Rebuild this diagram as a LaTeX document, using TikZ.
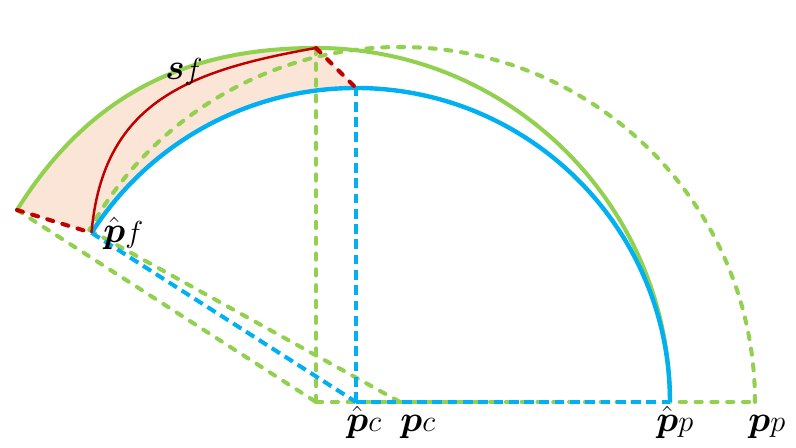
\documentclass[tikz,border=0pt]{standalone}
\usepackage{amsmath}
\usepackage{tikz}
\usetikzlibrary{calc}

\definecolor{skyblue}{RGB}{0,176,240}
\definecolor{leafgreen}{RGB}{146,208,80}
\definecolor{darkred}{RGB}{192,0,0}
\definecolor{peach}{RGB}{251,229,214}

\tikzset{
  dashes/.style={line width=2.3pt,line cap=round,dash pattern=on 3.5pt off 5.5pt},
  bluedashes/.style={skyblue,line width=2.3pt,dash pattern=on 5.5pt off 3.2pt},
  label/.style={anchor=base west,inner sep=0pt,font=\huge}
}

\begin{document}
\begin{tikzpicture}
  \useasboundingbox (0, 0) rectangle (15.92, 8.96);

  \coordinate (Pch) at (7.12, 0.92);
  \coordinate (Php) at (13.4, 0.92);
  \coordinate (Btop) at (7.12, 7.2);
  \coordinate (Pfh) at ($(Pch)+(147.4:6.28)$);
  \coordinate (G0) at (6.32, 0.92);
  \coordinate (Gtop) at (6.32, 8.0);
  \coordinate (GL) at (0.34, 4.76);
  \coordinate (Pc) at (8.0, 0.92);
  \coordinate (Pp) at (15.1, 0.92);
  \coordinate (Pfg) at ($(Pc)+(151:7.1)$);

  \fill[peach] (Pfh) -- (GL) to[out=58, in=180] (Gtop) -- (Btop)
  arc[start angle=90, end angle=147.4, radius=6.28] -- cycle;

  \draw[dashes,leafgreen] (Pp) arc[start angle=0, end angle=151, radius=7.1];
  \draw[dashes,leafgreen] (Pfg) -- (Pc);
  \draw[dashes,leafgreen] (GL) -- (G0);
  \draw[dashes,leafgreen] (G0) -- (Gtop);
  \draw[dashes,leafgreen] (G0) -- (Pp);
  \draw[line width=2.3pt,leafgreen] (Php) arc[start angle=0, end angle=90, radius=7.08]
  to[out=180, in=58] (GL);

  \draw[bluedashes] (Pfh) -- (Pch);
  \draw[bluedashes] (Pch) -- (Btop);
  \draw[bluedashes] (Pch) -- (Php);
  \draw[line width=2.5pt,skyblue] (Php) arc[start angle=0, end angle=147.4, radius=6.28];

  \draw[dashes,darkred] (GL) -- (Pfh);
  \draw[dashes,darkred] (Gtop) -- (Btop);
  \draw[line width=1.4pt,darkred] (Pfh) to[out=85, in=190, looseness=1.15] (Gtop);

  \node[label] (sf) at (3.3, 7.36) {$\boldsymbol{s}$\LARGE$f$};
  \node[label] (pfh) at (2.06, 4.1) {$\hat{\boldsymbol{p}}$\LARGE$f$};
  \node[label] (pch) at (6.92, 0.32) {$\hat{\boldsymbol{p}}$\LARGE$c$};
  \node[label] (pc) at (8.0, 0.32) {$\boldsymbol{p}$\LARGE$c$};
  \node[label] (php) at (13.12, 0.32) {$\hat{\boldsymbol{p}}$\LARGE$p$};
  \node[label] (pp) at (14.96, 0.32) {$\boldsymbol{p}$\LARGE$p$};
\end{tikzpicture}
\end{document}
